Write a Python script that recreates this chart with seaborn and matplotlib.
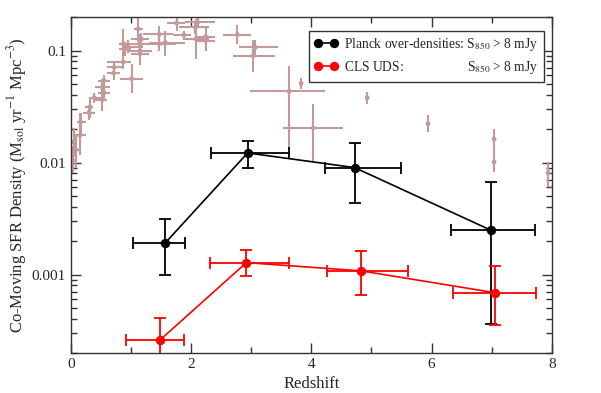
import numpy as np
import pandas as pd
import seaborn as sns
import matplotlib
matplotlib.use("Agg")
import matplotlib.pyplot as plt
from matplotlib.ticker import FixedLocator, NullFormatter, LogLocator

# Planck over-densities (black)
planck_z = [1.57, 2.94, 4.72, 6.99]
planck_sfrd = [0.00192, 0.0122, 0.00903, 0.00249]
planck_z_lo = [1.03, 2.33, 4.22, 6.32]
planck_z_hi = [1.90, 3.63, 5.49, 7.72]
planck_sfrd_lo = [0.00100, 0.00895, 0.00433, 0.000362]
planck_sfrd_hi = [0.00315, 0.0157, 0.0151, 0.00665]

# CLS UDS (red)
cls_z = [1.49, 2.92, 4.83, 7.05]
cls_sfrd = [0.000263, 0.00128, 0.00108, 0.00069]
cls_z_lo = [0.91, 2.32, 4.26, 6.35]
cls_z_hi = [1.88, 3.63, 5.61, 7.74]
cls_sfrd_lo = [0.0001, 0.00097, 0.00066, 0.000357]
cls_sfrd_hi = [0.00041, 0.00167, 0.00162, 0.00119]

# literature compilation (brown)
lit_z = [0.03, 0.05, 0.08, 0.15, 0.16, 0.32, 0.30, 0.39, 0.52, 0.52, 0.55, 0.55,
         0.71, 0.72, 0.87, 1.01, 0.87, 0.90, 0.95, 1.12, 1.15, 1.15, 1.15, 1.17,
         1.47, 1.47, 1.57, 1.76, 1.88, 2.07, 2.08, 2.11, 2.24, 2.24, 2.77, 3.07,
         3.03, 3.63, 3.83, 4.03, 4.93, 5.94, 7.04, 7.04, 7.94, 8.03]
lit_sfrd = [0.0105, 0.0153, 0.013, 0.0175, 0.023, 0.0313, 0.028, 0.038, 0.0365, 0.047,
            0.054, 0.042, 0.063, 0.071, 0.079, 0.056, 0.115, 0.104, 0.108, 0.156,
            0.115, 0.100, 0.094, 0.127, 0.140, 0.115, 0.118, 0.176, 0.138, 0.161,
            0.127, 0.179, 0.133, 0.123, 0.139, 0.107, 0.090, 0.0433, 0.051, 0.0204,
            0.038, 0.0223, 0.0162, 0.0101, 0.0081, 0.0061]
lit_z_lo = [0.01, 0.0, 0.0, 0.05, 0.10, 0.23, 0.20, 0.30, 0.40, 0.40, 0.45, 0.45,
            0.60, 0.60, 0.60, 0.82, 0.80, 0.80, 0.85, 1.05, 1.00, 0.95, 1.00, 1.00,
            1.20, 1.20, 1.30, 1.60, 1.70, 1.80, 1.90, 1.90, 2.10, 2.10, 2.53, 2.80,
            2.70, 2.98, 3.80, 3.53, 4.90, 5.91, 7.01, 7.01, 7.92, 8.00]
lit_z_hi = [0.05, 0.10, 0.15, 0.25, 0.25, 0.37, 0.40, 0.50, 0.60, 0.65, 0.65, 0.65,
            0.82, 0.85, 1.00, 1.20, 1.00, 1.00, 1.20, 1.20, 1.30, 1.35, 1.30, 1.30,
            1.70, 1.75, 1.90, 1.90, 2.00, 2.30, 2.30, 2.40, 2.40, 2.40, 3.00, 3.45,
            3.40, 4.22, 3.86, 4.53, 4.96, 5.97, 7.07, 7.07, 7.96, 8.06]
lit_sfrd_lo = [0.008, 0.0112, 0.009, 0.0117, 0.0175, 0.025, 0.024, 0.034, 0.029, 0.040,
               0.045, 0.036, 0.055, 0.064, 0.068, 0.042, 0.078, 0.090, 0.095, 0.120,
               0.090, 0.080, 0.075, 0.110, 0.120, 0.100, 0.090, 0.150, 0.125, 0.140,
               0.085, 0.160, 0.110, 0.100, 0.115, 0.090, 0.065, 0.0129, 0.0457, 0.0102,
               0.0336, 0.0188, 0.0125, 0.0082, 0.0061, 0.0050]
lit_sfrd_hi = [0.014, 0.0203, 0.018, 0.0275, 0.028, 0.038, 0.033, 0.042, 0.044, 0.056,
               0.060, 0.050, 0.072, 0.080, 0.090, 0.076, 0.157, 0.120, 0.125, 0.200,
               0.140, 0.125, 0.115, 0.145, 0.165, 0.135, 0.150, 0.200, 0.150, 0.185,
               0.190, 0.200, 0.160, 0.145, 0.170, 0.125, 0.125, 0.0736, 0.057, 0.0336,
               0.0427, 0.0265, 0.0201, 0.0125, 0.0102, 0.0075]

sns.set_style("ticks")
plt.rcParams["font.family"] = ["Liberation Serif", "DejaVu Serif"]
plt.rcParams["mathtext.fontset"] = "stix"

fig = plt.figure(figsize=(6.01, 3.93), dpi=100)
ax = fig.add_axes([0.118, 0.102, 0.800, 0.855])

brown = "#c39a9a"
lit = pd.DataFrame({"z": lit_z, "sfrd": lit_sfrd})
ax.errorbar(lit_z, lit_sfrd,
            xerr=[np.array(lit_z) - np.array(lit_z_lo), np.array(lit_z_hi) - np.array(lit_z)],
            yerr=[np.array(lit_sfrd) - np.array(lit_sfrd_lo), np.array(lit_sfrd_hi) - np.array(lit_sfrd)],
            fmt="none", ecolor=brown, elinewidth=1.5, capsize=0, zorder=1)
sns.scatterplot(data=lit, x="z", y="sfrd", color=brown, s=12, edgecolor="none", ax=ax, zorder=2)

def draw_set(z, s, zlo, zhi, slo, shi, color, label):
    z = np.array(z); s = np.array(s)
    ax.errorbar(z, s, xerr=[z - np.array(zlo), np.array(zhi) - z],
                yerr=[s - np.array(slo), np.array(shi) - s],
                fmt="none", ecolor=color, elinewidth=1.3, capsize=4, capthick=1.3, zorder=3)
    df = pd.DataFrame({"z": z, "sfrd": s})
    sns.lineplot(data=df, x="z", y="sfrd", color=color, lw=1.2, marker="o", markersize=6,
                 markeredgecolor=color, label=label, ax=ax, zorder=4, sort=False)

draw_set(planck_z, planck_sfrd, planck_z_lo, planck_z_hi, planck_sfrd_lo, planck_sfrd_hi,
         "black", "Planck over-densities: S$_{850}$ > 8 mJy")
draw_set(cls_z, cls_sfrd, cls_z_lo, cls_z_hi, cls_sfrd_lo, cls_sfrd_hi,
         "#ff0000", "CLS UDS:                   S$_{850}$ > 8 mJy")

ax.set_yscale("log")
ax.set_xlim(0, 8)
ax.set_ylim(2e-4, 0.2)
ax.xaxis.set_major_locator(FixedLocator([0, 2, 4, 6, 8]))
ax.xaxis.set_minor_locator(FixedLocator([1, 3, 5, 7]))
ax.yaxis.set_major_locator(FixedLocator([0.001, 0.01, 0.1]))
ax.set_yticklabels(["0.001", "0.01", "0.1"])
ax.yaxis.set_minor_locator(LogLocator(base=10, subs=np.arange(2, 10)))
ax.yaxis.set_minor_formatter(NullFormatter())
ax.tick_params(which="both", direction="in", top=True, right=True, labelsize=11, color="#333333")
ax.tick_params(which="major", length=7, width=1)
ax.tick_params(which="minor", length=4, width=1)
for sp in ax.spines.values():
    sp.set_color("#333333")
    sp.set_linewidth(1)

ax.set_xlabel("Redshift", fontsize=12, labelpad=4)
ax.set_ylabel("Co-Moving SFR Density (M$_{\\rm sol}$ yr$^{-1}$ Mpc$^{-3}$)", fontsize=12, labelpad=2)

leg = ax.legend(loc="upper right", bbox_to_anchor=(0.9834, 0.959), numpoints=2, fontsize=9.75,
                frameon=True, fancybox=False, edgecolor="#333333", framealpha=1,
                borderpad=0.4, handlelength=1.8, handletextpad=0.4, labelspacing=0.45,
                borderaxespad=0)
leg.get_frame().set_linewidth(1)

fig.savefig("out.png", dpi=100)
